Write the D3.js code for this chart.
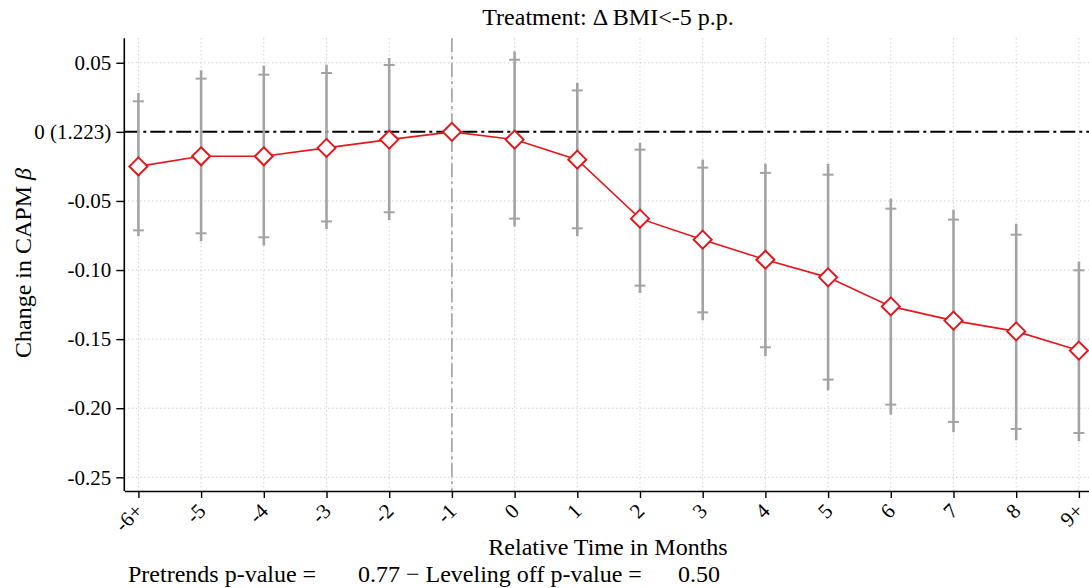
<!DOCTYPE html>
<html>
<head>
<meta charset="utf-8">
<script src="https://cdn.jsdelivr.net/npm/d3@7"></script>
<style>
  body { margin: 0; background: #fff; }
  text { font-family: "Liberation Serif", "DejaVu Serif", serif; fill: #000; }
</style>
</head>
<body>
<div id="chart"></div>
<script>
// event-study coefficients, relative month -6+ ... 9+ (-1 is the reference period)
const monthLabels = ["-6+", "-5", "-4", "-3", "-2", "-1", "0", "1", "2", "3", "4", "5", "6", "7", "8", "9+"];
const coef    = [-0.0250, -0.0177, -0.0177, -0.0116, -0.0056, 0, -0.0056, -0.0201, -0.0628, -0.0780, -0.0925, -0.1053, -0.1263, -0.1366, -0.1444, -0.1583];
// inner interval (cap marks)
const capHi   = [0.0221, 0.0385, 0.0414, 0.0426, 0.0484, null, 0.0522, 0.0300, -0.0129, -0.0259, -0.0297, -0.0310, -0.0556, -0.0635, -0.0744, -0.1002];
const capLo   = [-0.0713, -0.0734, -0.0763, -0.0648, -0.0582, null, -0.0628, -0.0698, -0.1113, -0.1306, -0.1559, -0.1793, -0.1974, -0.2099, -0.2150, -0.2179];
// outer interval (end of the bar)
const barHi   = [0.0281, 0.0445, 0.0479, 0.0486, 0.0535, null, 0.0582, 0.0354, -0.0080, -0.0201, -0.0230, -0.0232, -0.0483, -0.0563, -0.0666, -0.0939];
const barLo   = [-0.0756, -0.0792, -0.0823, -0.0703, -0.0640, null, -0.0684, -0.0756, -0.1166, -0.1364, -0.1624, -0.1870, -0.2046, -0.2174, -0.2232, -0.2239];

const yTicks = [0.05, 0, -0.05, -0.10, -0.15, -0.20, -0.25];
const yTickLabels = ["0.05", "0 (1.223)", "-0.05", "-0.10", "-0.15", "-0.20", "-0.25"];
const refIndex = 5;

const W = 1089, H = 588;
const plot = {left: 124.3, top: 38.3, bottom: 491, right: 1093};
const serif = '"Liberation Serif", "DejaVu Serif", serif';

const svg = d3.select("#chart").append("svg")
    .attr("width", W)
    .attr("height", H)
    .attr("font-family", serif);

const x = d3.scaleLinear()
    .domain([-0.225, monthLabels.length - 1 + 0.225])
    .range([plot.left, plot.right]);

const y = d3.scaleLinear()
    .domain([-0.2599, 0.0677])
    .range([plot.bottom, plot.top]);

const idx = d3.range(monthLabels.length);

// dotted grid
svg.append("g")
    .selectAll("line")
    .data(idx)
    .join("line")
    .attr("x1", i => x(i)).attr("x2", i => x(i))
    .attr("y1", plot.top).attr("y2", plot.bottom)
    .attr("stroke", "#bdbdbd")
    .attr("stroke-width", 1)
    .attr("stroke-dasharray", "1,3");

svg.append("g")
    .selectAll("line")
    .data(yTicks.filter(v => v !== 0))
    .join("line")
    .attr("x1", plot.left).attr("x2", W)
    .attr("y1", d => y(d)).attr("y2", d => y(d))
    .attr("stroke", "#bdbdbd")
    .attr("stroke-width", 1)
    .attr("stroke-dasharray", "1,3");

// reference period marker
svg.append("line")
    .attr("x1", x(refIndex)).attr("x2", x(refIndex))
    .attr("y1", plot.top).attr("y2", plot.bottom)
    .attr("stroke", "#a0a0a0")
    .attr("stroke-width", 1.6)
    .attr("stroke-dasharray", "14,4,3,4");

// zero line
svg.append("line")
    .attr("x1", plot.left).attr("x2", W)
    .attr("y1", y(0)).attr("y2", y(0))
    .attr("stroke", "#000")
    .attr("stroke-width", 2)
    .attr("stroke-dasharray", "15,4,3,4");

// error bars
const bars = idx.filter(i => barHi[i] !== null);
const eb = svg.append("g").attr("stroke", "#a3a3a3");

eb.selectAll(".bar")
    .data(bars)
    .join("line")
    .attr("class", "bar")
    .attr("x1", i => x(i)).attr("x2", i => x(i))
    .attr("y1", i => y(barHi[i])).attr("y2", i => y(barLo[i]))
    .attr("stroke-width", 2.6);

const capW = 5.5;
eb.selectAll(".capHi")
    .data(bars)
    .join("line")
    .attr("class", "capHi")
    .attr("x1", i => x(i) - capW).attr("x2", i => x(i) + capW)
    .attr("y1", i => y(capHi[i])).attr("y2", i => y(capHi[i]))
    .attr("stroke-width", 2);

eb.selectAll(".capLo")
    .data(bars)
    .join("line")
    .attr("class", "capLo")
    .attr("x1", i => x(i) - capW).attr("x2", i => x(i) + capW)
    .attr("y1", i => y(capLo[i])).attr("y2", i => y(capLo[i]))
    .attr("stroke-width", 2);

// coefficient line + diamonds
const red = "#e4161c";
svg.append("path")
    .datum(idx)
    .attr("fill", "none")
    .attr("stroke", red)
    .attr("stroke-width", 1.6)
    .attr("d", d3.line().x(i => x(i)).y(i => y(coef[i])));

const r = 9;
svg.append("g")
    .selectAll("path")
    .data(idx)
    .join("path")
    .attr("transform", i => `translate(${x(i)},${y(coef[i])})`)
    .attr("d", `M0,${-r}L${r},0L0,${r}L${-r},0Z`)
    .attr("fill", "#fff")
    .attr("stroke", red)
    .attr("stroke-width", 2);

// axes
const yAxis = svg.append("g")
    .attr("transform", `translate(${plot.left},0)`)
    .call(d3.axisLeft(y)
        .tickValues(yTicks)
        .tickFormat((d, i) => yTickLabels[i])
        .tickSize(8)
        .tickPadding(5)
        .tickSizeOuter(0));

const xAxis = svg.append("g")
    .attr("transform", `translate(0,${plot.bottom})`)
    .call(d3.axisBottom(x)
        .tickValues(idx)
        .tickFormat(i => monthLabels[i])
        .tickSize(7)
        .tickSizeOuter(0));

[yAxis, xAxis].forEach(g => {
    g.attr("font-family", serif);
    g.select(".domain").attr("stroke", "#000").attr("stroke-width", 1.6);
    g.selectAll(".tick line").attr("stroke", "#000").attr("stroke-width", 1.4);
    g.selectAll("text")
        .attr("font-size", "21px")
        .attr("fill", "#000");
});
yAxis.select(".domain").attr("d", `M0,${plot.top}V${plot.bottom}`);

xAxis.selectAll(".tick text")
    .attr("text-anchor", "end")
    .attr("x", 0).attr("y", 0)
    .attr("dy", "0.35em")
    .attr("transform", "translate(0,16) rotate(-45)");

// titles
svg.append("text")
    .attr("x", 608).attr("y", 25)
    .attr("text-anchor", "middle")
    .attr("font-size", "24px")
    .text("Treatment: \u0394 BMI<-5 p.p.");

const yl = svg.append("text")
    .attr("transform", "translate(31,263) rotate(-90)")
    .attr("text-anchor", "middle")
    .attr("font-size", "24px");
yl.append("tspan").text("Change in CAPM ");
yl.append("tspan").attr("font-style", "italic").text("\u03b2");

svg.append("text")
    .attr("x", 608).attr("y", 555)
    .attr("text-anchor", "middle")
    .attr("font-size", "24px")
    .text("Relative Time in Months");

// footnote
const note = svg.append("text").attr("y", 582).attr("font-size", "24px");
note.append("tspan").attr("x", 128).text("Pretrends p-value =");
note.append("tspan").attr("x", 358).text("0.77 \u2212 Leveling off p-value =");
note.append("tspan").attr("x", 678).text("0.50");
</script>
</body>
</html>
